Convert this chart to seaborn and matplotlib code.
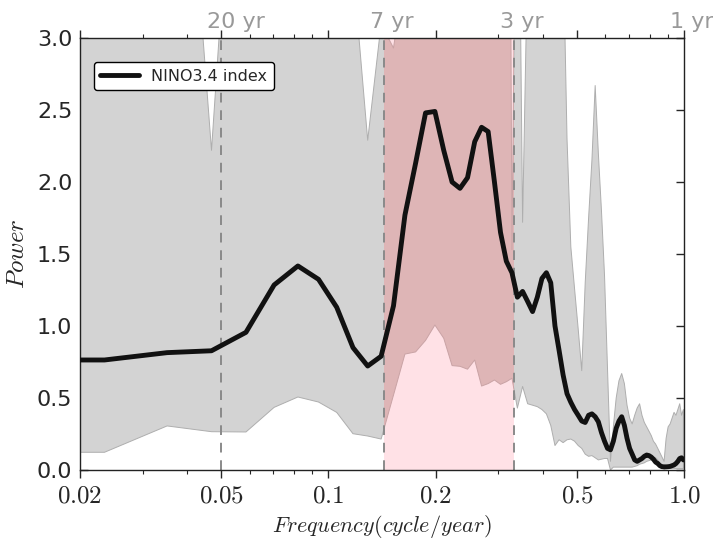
import numpy as np
import pandas as pd
import matplotlib
matplotlib.use("Agg")
import matplotlib.pyplot as plt
import matplotlib.patches as mpatches
import matplotlib.transforms as mtransforms
from matplotlib.ticker import FixedLocator, NullFormatter, LogLocator
import seaborn as sns

# ---------------- data ----------------
n_months = 1024          # record length (monthly samples)
k_index = np.arange(1, 86)
freq = k_index * 12.0 / n_months   # cycles / year (spectral grid)

power = [0.764, 0.764, 0.815, 0.828, 0.956, 1.285, 1.417, 1.324, 1.13, 0.85,
         0.722, 0.79, 1.14, 1.77, 2.13, 2.48, 2.49, 2.22, 2.00, 1.956,
         2.03, 2.28, 2.38, 2.35, 2.00, 1.65, 1.45, 1.37, 1.20, 1.24,
         1.17, 1.10, 1.20, 1.33, 1.37, 1.30, 1.00, 0.83, 0.66, 0.53,
         0.47, 0.42, 0.38, 0.34, 0.33, 0.38, 0.39, 0.37, 0.335, 0.26,
         0.20, 0.15, 0.14, 0.20, 0.29, 0.34, 0.37, 0.31, 0.22, 0.15,
         0.11, 0.07, 0.06, 0.07, 0.08, 0.095, 0.104, 0.10, 0.09, 0.075,
         0.055, 0.045, 0.03, 0.023, 0.022, 0.022, 0.023, 0.025, 0.03, 0.035,
         0.045, 0.06, 0.08, 0.085, 0.07]

lower = [0.123, 0.123, 0.306, 0.266, 0.264, 0.435, 0.507, 0.472, 0.40, 0.252,
         0.236, 0.215, 0.52, 0.805, 0.82, 0.90, 1.007, 0.915, 0.725, 0.72,
         0.70, 0.764, 0.583, 0.60, 0.625, 0.595, 0.613, 0.637, 0.43, 0.58,
         0.46, 0.45, 0.44, 0.42, 0.39, 0.31, 0.17, 0.21, 0.19, 0.21,
         0.215, 0.20, 0.17, 0.15, 0.11, 0.095, 0.10, 0.085, 0.07, 0.075,
         0.08, 0.08, 0.0, 0.02, 0.02, 0.02, 0.02, 0.02, 0.02, 0.02,
         0.02, 0.025, 0.03, 0.04, 0.045, 0.05, 0.06, 0.065, 0.07, 0.08,
         0.085, 0.07, 0.04, 0.02, 0.005, 0.01, 0.01, 0.01, 0.01, 0.01,
         0.01, 0.01, 0.01, 0.01, 0.01]

upper = [6.0, 6.0, 6.3, 2.22, 5.8, 6.0, 6.0, 6.0, 6.0, 3.49,
         2.29, 3.1, 2.93, 3.47, 6.0, 6.0, 6.0, 6.0, 6.0, 6.0,
         6.0, 6.0, 6.0, 6.0, 6.0, 6.0, 10.0, 1.53, 5.3, 1.72,
         3.6, 6.0, 6.0, 6.0, 6.0, 6.0, 6.0, 6.0, 3.67, 2.3,
         1.55, 1.26, 0.98, 0.69, 1.3, 1.75, 2.15, 2.67, 2.2, 1.8,
         1.35, 0.70, 0.06, 0.30, 0.50, 0.62, 0.67, 0.60, 0.45, 0.36,
         0.32, 0.38, 0.43, 0.46, 0.38, 0.33, 0.30, 0.27, 0.24, 0.20,
         0.18, 0.15, 0.12, 0.09, 0.06, 0.22, 0.30, 0.32, 0.36, 0.40,
         0.38, 0.42, 0.46, 0.38, 0.42]

period_marks = [1 / 20, 1 / 7, 1 / 3, 1.0]
period_labels = ["20 yr", "7 yr", "3 yr", "1 yr"]
band = (1 / 7, 1 / 3)
xtick_vals = [0.02, 0.05, 0.1, 0.2, 0.5, 1.0]
xtick_labels = [r"$0.02$", r"$0.05$", r"$0.1$", r"$0.2$", r"$0.5$", r"$1.0$"]
series_name = "NINO3.4 index"

df = pd.DataFrame({"freq": freq, "power": power, "lower": lower, "upper": upper})

# ---------------- style ----------------
sns.set_style("white")
plt.rcParams["font.family"] = ["DejaVu Sans"]
plt.rcParams["mathtext.fontset"] = "cm"

fig = plt.figure(figsize=(7.13, 5.42), dpi=100)
ax = fig.add_axes([80 / 713, 1 - 470 / 542, 604 / 713, 432 / 542])
ax.set_xscale("log")
ax.set_xlim(0.02, 1.0)
ax.set_ylim(0, 3.0)

grey = "#d3d3d3"
light_pink = "#ffe1e6"
dark_pink = "#deb5b6"

ax.fill_between(df["freq"], df["lower"], df["upper"], color=grey,
                edgecolor="#aeaeae", linewidth=0.7, zorder=1)
ax.axvspan(band[0], band[1], color=light_pink, lw=0, zorder=1.5)
pink_fill = ax.fill_between(df["freq"], df["lower"], df["upper"], color=dark_pink,
                            edgecolor="#c9a3a5", linewidth=0.7, zorder=1.6)
clip_rect = mpatches.Rectangle((band[0], 0.0), band[1] - band[0], 3.0,
                               transform=ax.transData, fill=False)
pink_fill.set_clip_path(clip_rect)

for xv in period_marks[:3]:
    ax.axvline(xv, color="#8a8a8a", ls=(0, (5, 4)), lw=1.4, zorder=2)

sns.lineplot(data=df, x="freq", y="power", color="#111111", lw=3.5,
             label=series_name, ax=ax, zorder=3)

ax.set_xlim(0.02, 1.0)
ax.set_ylim(0, 3.0)
ax.xaxis.set_major_locator(FixedLocator(xtick_vals))
ax.set_xticklabels(xtick_labels)
ax.xaxis.set_minor_locator(LogLocator(base=10, subs=np.arange(2, 10)))
ax.xaxis.set_minor_formatter(NullFormatter())
ax.set_yticks(np.arange(0, 3.01, 0.5))
ax.set_yticklabels([f"{v:.1f}" for v in np.arange(0, 3.01, 0.5)])

ax.tick_params(axis="x", which="both", direction="out", top=True, bottom=True,
               labelsize=18, pad=4)
ax.tick_params(axis="x", which="major", length=6, width=1)
ax.tick_params(axis="x", which="minor", length=3, width=0.8)
ax.tick_params(axis="y", which="major", direction="in", left=True, right=True,
               length=6, width=1, labelsize=16, pad=5.5)
for sp in ax.spines.values():
    sp.set_color("#222222")
    sp.set_linewidth(1.0)

top_trans = mtransforms.offset_copy(ax.get_xaxis_transform(), fig=fig,
                                    x=-14, y=6, units="dots")
for xv, lab in zip(period_marks, period_labels):
    ax.text(xv, 1.0, lab, transform=top_trans, ha="left",
            va="bottom", color="#999999", fontsize=16, clip_on=False)

ax.set_xlabel(r"$Frequency (cycle/year)$", fontsize=16, labelpad=4)
ax.set_ylabel(r"$Power$", fontsize=18, labelpad=6)

leg = ax.legend(loc="upper left", bbox_to_anchor=(0.023, 0.944), borderaxespad=0,
                fontsize=11.5, frameon=True, fancybox=True, handlelength=2.4,
                edgecolor="black", framealpha=1)
leg.get_frame().set_linewidth(1.0)

fig.savefig("out.png", dpi=100)
